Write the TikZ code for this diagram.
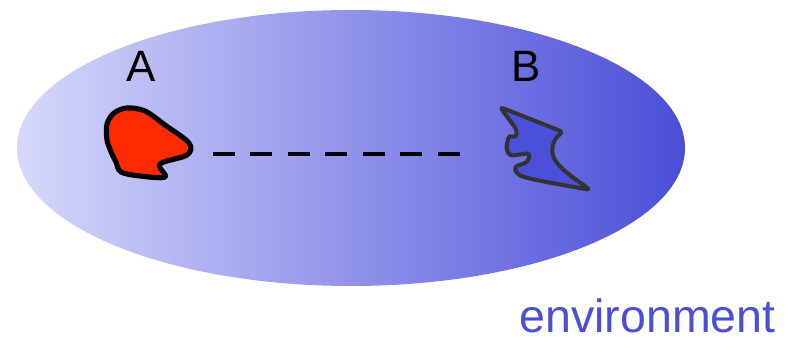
\documentclass[tikz,border=0pt]{standalone}
\usepackage{fontspec}
\setmainfont{Liberation Sans}
\definecolor{envlight}{HTML}{D6D8FB}
\definecolor{envdark}{HTML}{4A4ED8}
\definecolor{blobred}{HTML}{FF2A00}
\definecolor{shardblue}{HTML}{4A50DA}
\definecolor{envtext}{HTML}{4A50D6}
\definecolor{edgegray}{HTML}{333333}
\tikzset{
  lbl/.style={font=\fontsize{25}{27}\selectfont, text=black, inner sep=0pt},
  envlbl/.style={font=\fontsize{26.5}{28}\selectfont, text=envtext, inner sep=0pt, anchor=base east},
  link/.style={line width=2.8pt, dash pattern=on 12.5pt off 8.8pt}
}
\begin{document}
\begin{tikzpicture}[x=0.02cm,y=-0.02cm]
  \useasboundingbox (0,0) rectangle (796,341);
  % the surrounding environment
  \shade[left color=envlight, right color=envdark] (351,148) ellipse [x radius=334, y radius=138];
  % system A
  \draw[line width=2.9pt, fill=blobred, line join=round]
    plot[smooth cycle, tension=0.55] coordinates {
      (127,108) (145,111) (165,125) (189,143) (187,155) (160,164) (165,177)
      (140,176) (121,172) (116,162) (112,154) (107,140) (107,124) (114,113)};
  % system B
  \draw[line width=2.3pt, draw=edgegray, fill=shardblue, line join=round, rounded corners=2pt]
    (500,107) -- (563,132) .. controls (552,140) and (550,152) .. (557,163)
    .. controls (568,175) and (580,182) .. (590,190)
    .. controls (565,185) and (530,180) .. (517,174)
    -- (514,167) -- (528,162) -- (530,153) -- (510,156) -- (506,149)
    -- (509,135) -- (516,138) -- (517,130) -- cycle;
  % labels
  \node[lbl] (labA) at (141,66) {A};
  \node[lbl] (labB) at (526,66) {B};
  \node[envlbl] (env) at (776,333) {environment};
  % correlation between A and B
  \coordinate (endA) at (213,154);
  \coordinate (endB) at (460,154);
  \draw[link] (endA) -- (endB);
\end{tikzpicture}
\end{document}
